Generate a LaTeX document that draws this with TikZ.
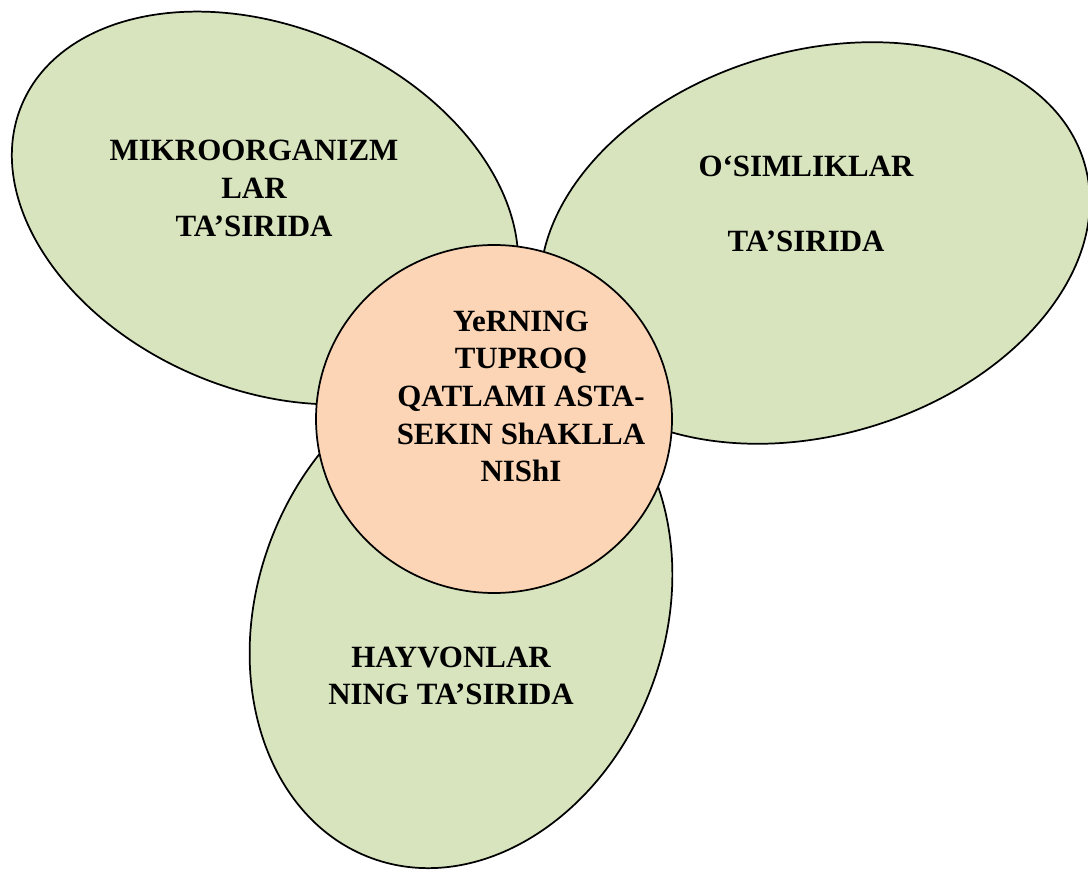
\documentclass[tikz,border=0pt]{standalone}
\usepackage{fontspec}
\setmainfont{Liberation Serif}
\definecolor{leafgreen}{RGB}{215,228,189}
\definecolor{peach}{RGB}{251,213,181}
\begin{document}
\begin{tikzpicture}[x=0.75pt,y=0.75pt,
  petal/.style={draw=black, line width=1.3pt, fill=leafgreen},
  core/.style={petal, fill=peach},
  caption/.style={align=center, inner sep=0pt,
    font=\fontsize{23.2}{28.2}\selectfont\bfseries}]
\useasboundingbox (0,0) rectangle (1088,872);
\clip (0,0) rectangle (1088,872);
% three outer petals
\draw[petal, rotate around={-23.2:(265,664)}] (265,664) ellipse [x radius=264.2, y radius=181.2];
\draw[petal, rotate around={16.6:(815,629)}] (815,629) ellipse [x radius=281, y radius=192];
\draw[petal, rotate around={70:(461,258)}] (461,258) ellipse [x radius=260, y radius=204];
% central disc
\draw[core] (494,453) ellipse [x radius=178, y radius=174];
% labels
\node[caption] (micro) at (254,683.5) {MIKROORGANIZM\\LAR\\TA’SIRIDA};
\node[caption] (plants) at (806,668) {O‘SIMLIKLAR\\[28.2pt]TA’SIRIDA};
\node[caption] (animals) at (451,196) {HAYVONLAR\\NING TA’SIRIDA};
\node[caption] (soil) at (521,475.5) {YeRNING\\TUPROQ\\QATLAMI ASTA-\\SEKIN ShAKLLA\\NIShI};
\end{tikzpicture}
\end{document}
